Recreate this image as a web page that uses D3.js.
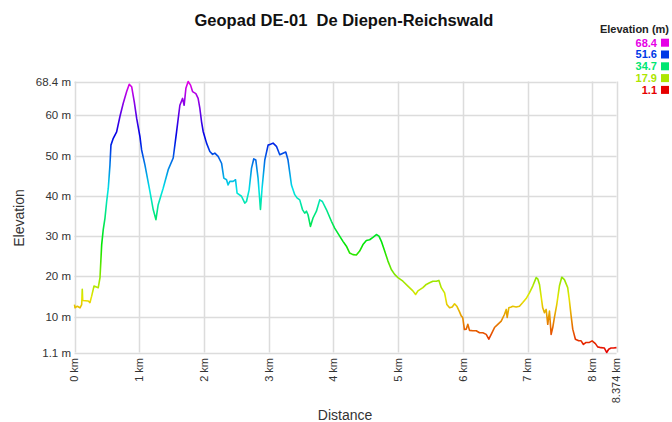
<!DOCTYPE html>
<html>
<head>
<meta charset="utf-8">
<script src="https://cdn.jsdelivr.net/npm/d3@7"></script>
<style>
  body { margin: 0; background: #fff; }
  text { font-family: "Liberation Sans", Arial, sans-serif; }
</style>
</head>
<body>
<div id="block"></div>
<script>
// distance along track (km) and elevation (m)
var dist = [0, 0.008, 0.043, 0.085, 0.111, 0.12, 0.127, 0.213, 0.239, 0.265, 0.301, 0.367, 0.394, 0.42, 0.444,
  0.471, 0.497, 0.522, 0.548, 0.563, 0.599, 0.651, 0.702, 0.753, 0.806, 0.846, 0.883, 0.923, 0.96, 1.011,
  1.037, 1.088, 1.165, 1.216, 1.258, 1.293, 1.37, 1.448, 1.525, 1.577, 1.628, 1.67, 1.694, 1.721, 1.756,
  1.793, 1.824, 1.875, 1.91, 1.937, 1.963, 1.988, 2.04, 2.091, 2.133, 2.168, 2.219, 2.272, 2.307, 2.349,
  2.373, 2.4, 2.451, 2.488, 2.512, 2.58, 2.631, 2.657, 2.698, 2.735, 2.77, 2.801, 2.836, 2.873, 2.898,
  2.94, 2.991, 3.028, 3.068, 3.12, 3.171, 3.222, 3.264, 3.299, 3.352, 3.403, 3.438, 3.48, 3.522, 3.557,
  3.583, 3.608, 3.645, 3.685, 3.738, 3.789, 3.83, 3.892, 3.969, 4.02, 4.097, 4.148, 4.201, 4.252, 4.302,
  4.355, 4.406, 4.457, 4.509, 4.56, 4.611, 4.664, 4.704, 4.741, 4.792, 4.843, 4.895, 4.946, 4.997, 5.074,
  5.151, 5.228, 5.27, 5.306, 5.383, 5.435, 5.486, 5.537, 5.59, 5.63, 5.667, 5.718, 5.753, 5.795, 5.836,
  5.872, 5.907, 5.949, 5.975, 5.998, 6.024, 6.052, 6.077, 6.103, 6.154, 6.207, 6.258, 6.309, 6.361, 6.401,
  6.438, 6.489, 6.54, 6.593, 6.644, 6.67, 6.685, 6.71, 6.747, 6.772, 6.824, 6.875, 6.926, 6.978, 7.029,
  7.08, 7.133, 7.157, 7.184, 7.234, 7.261, 7.287, 7.312, 7.338, 7.364, 7.389, 7.415, 7.451, 7.492, 7.528,
  7.569, 7.62, 7.647, 7.673, 7.698, 7.739, 7.79, 7.827, 7.863, 7.904, 7.955, 7.997, 8.048, 8.083, 8.136,
  8.187, 8.222, 8.253, 8.29, 8.326, 8.374];

var elev = [13.0, 12.2, 12.6, 12.2, 13.0, 16.8, 14.0, 13.9, 13.5, 15.1, 17.6, 17.2, 19.7, 27.9, 31.6,
  34.5, 38.6, 41.9, 47.7, 52.6, 54.3, 55.9, 59.7, 63.0, 65.9, 67.7, 67.1, 63.4, 59.3, 54.7,
  51.4, 47.7, 41.1, 36.6, 34.1, 37.8, 41.9, 46.5, 49.4, 55.9, 62.5, 64.2, 62.5, 66.7, 68.4,
  67.5, 65.9, 65.4, 64.2, 61.7, 58.4, 56.0, 53.1, 51.0, 50.3, 50.6, 49.8, 48.1, 44.4, 44.0,
  42.7, 43.6, 43.6, 44.0, 40.7, 39.9, 38.2, 38.6, 41.5, 46.9, 49.2, 48.9, 44.4, 36.6, 41.9,
  48.9, 52.6, 52.8, 53.1, 52.3, 50.2, 50.6, 50.9, 48.9, 42.7, 40.3, 39.5, 39.0, 36.6, 35.7,
  36.2, 35.3, 32.4, 34.5, 36.2, 39.0, 38.6, 36.6, 33.7, 32.0, 30.0, 28.7, 27.5, 25.8, 25.4,
  25.3, 26.3, 27.9, 28.9, 29.1, 29.7, 30.4, 30.0, 28.7, 26.3, 23.8, 21.7, 20.5, 19.7, 18.8,
  17.6, 16.4, 15.5, 16.4, 17.2, 18.0, 18.4, 18.8, 18.8, 19.0, 17.2, 15.9, 13.0, 12.2, 12.4,
  13.2, 12.6, 11.2, 10.2, 9.8, 6.8, 6.9, 8.1, 6.6, 6.5, 6.5, 6.0, 6.0, 5.6, 4.4,
  5.6, 7.3, 8.1, 8.9, 10.6, 11.8, 9.8, 12.2, 12.4, 12.6, 12.4, 12.6, 13.5, 14.5, 15.9,
  17.6, 19.7, 19.4, 18.0, 12.2, 11.0, 11.8, 8.1, 11.4, 5.6, 7.3, 9.8, 13.0, 17.6, 19.8,
  19.2, 17.2, 13.9, 10.2, 6.9, 4.4, 4.0, 4.0, 3.1, 3.6, 3.6, 4.0, 3.3, 2.5, 2.3,
  2.2, 1.1, 1.9, 2.2, 2.2, 2.3];

var yTicks = [1.1, 10, 20, 30, 40, 50, 60, 68.4];
var xTicks = [0, 1, 2, 3, 4, 5, 6, 7, 8, 8.374];
var legendValues = [68.4, 51.6, 34.7, 17.9, 1.1];

var w = 672,
  h = 422;

var svg = d3.select("#block")
          .append("svg")
          .attr("width", w)
          .attr("height", h);

var x = d3.scaleLinear().domain([0, 8.374]).range([74.5, 616.5]);
var y = d3.scaleLinear().domain([1.1, 68.4]).range([352.5, 81.5]);

// hue runs red -> magenta with elevation
var hue = d3.scaleLinear().domain([1.1, 68.4]).range([0, 300]);
function elevColor(v) { return d3.hsl(hue(v), 1, 0.45).formatHex(); }

// gradient for the line, in user space along y
var grad = svg.append("defs").append("linearGradient")
  .attr("id", "elevGrad")
  .attr("gradientUnits", "userSpaceOnUse")
  .attr("x1", 0).attr("x2", 0)
  .attr("y1", y(1.1)).attr("y2", y(68.4));
d3.range(0, 1.0001, 0.05).forEach(function(t) {
  grad.append("stop")
    .attr("offset", t)
    .attr("stop-color", elevColor(1.1 + t * (68.4 - 1.1)));
});

// grid
svg.append("g").selectAll("line")
  .data(yTicks).enter().append("line")
  .attr("x1", x(0)).attr("x2", x(8.374))
  .attr("y1", function(d) { return Math.round(y(d)) + 0.5; })
  .attr("y2", function(d) { return Math.round(y(d)) + 0.5; })
  .attr("stroke", "#dcdcdc").attr("stroke-width", 1.5);

svg.append("g").selectAll("line")
  .data(xTicks).enter().append("line")
  .attr("x1", function(d) { return Math.round(x(d)) + 0.5; })
  .attr("x2", function(d) { return Math.round(x(d)) + 0.5; })
  .attr("y1", y(68.4)).attr("y2", y(1.1))
  .attr("stroke", "#dcdcdc").attr("stroke-width", 1.5);

// y labels
svg.append("g").selectAll("text")
  .data(yTicks).enter().append("text")
  .attr("x", 71)
  .attr("y", function(d) { return y(d); })
  .attr("dy", "0.35em")
  .attr("text-anchor", "end")
  .attr("font-size", 11.5)
  .attr("fill", "#333")
  .text(function(d) { return d + " m"; });

// x labels, rotated
svg.append("g").selectAll("text")
  .data(xTicks).enter().append("text")
  .attr("transform", function(d) { return "translate(" + x(d) + ",358) rotate(-90)"; })
  .attr("dy", "0.35em")
  .attr("text-anchor", "end")
  .attr("font-size", 11)
  .attr("fill", "#333")
  .text(function(d) { return d + " km"; });

// profile
var line = d3.line()
  .x(function(d) { return x(d[0]); })
  .y(function(d) { return y(d[1]); });

svg.append("path")
  .datum(d3.zip(dist, elev))
  .attr("d", line)
  .attr("fill", "none")
  .attr("stroke", "url(#elevGrad)")
  .attr("stroke-width", 1.6)
  .attr("stroke-linejoin", "round");

// titles
svg.append("text")
  .attr("x", 344).attr("y", 26)
  .attr("text-anchor", "middle")
  .attr("font-size", 16.5).attr("font-weight", "bold")
  .attr("fill", "#111")
  .style("white-space", "pre")
  .text("Geopad DE-01  De Diepen-Reichswald");

svg.append("text")
  .attr("transform", "translate(24,218) rotate(-90)")
  .attr("text-anchor", "middle")
  .attr("font-size", 14)
  .attr("fill", "#333")
  .text("Elevation");

svg.append("text")
  .attr("x", 345).attr("y", 420)
  .attr("text-anchor", "middle")
  .attr("font-size", 14)
  .attr("fill", "#333")
  .text("Distance");

// legend
var legend = svg.append("g");
legend.append("text")
  .attr("x", 669).attr("y", 33)
  .attr("text-anchor", "end")
  .attr("font-size", 11).attr("font-weight", "bold")
  .attr("fill", "#222")
  .text("Elevation (m)");

var items = legend.selectAll("g.item")
  .data(legendValues).enter().append("g")
  .attr("transform", function(d, i) { return "translate(0," + (42.7 + i * 11.8) + ")"; });
items.append("rect")
  .attr("x", 661).attr("y", -4)
  .attr("width", 8).attr("height", 8)
  .attr("fill", function(d) { return elevColor(d); });
items.append("text")
  .attr("x", 657)
  .attr("dy", "0.35em")
  .attr("text-anchor", "end")
  .attr("font-size", 11).attr("font-weight", "bold")
  .attr("fill", function(d) { return elevColor(d); })
  .text(function(d) { return d.toFixed(1); });
</script>
</body>
</html>
